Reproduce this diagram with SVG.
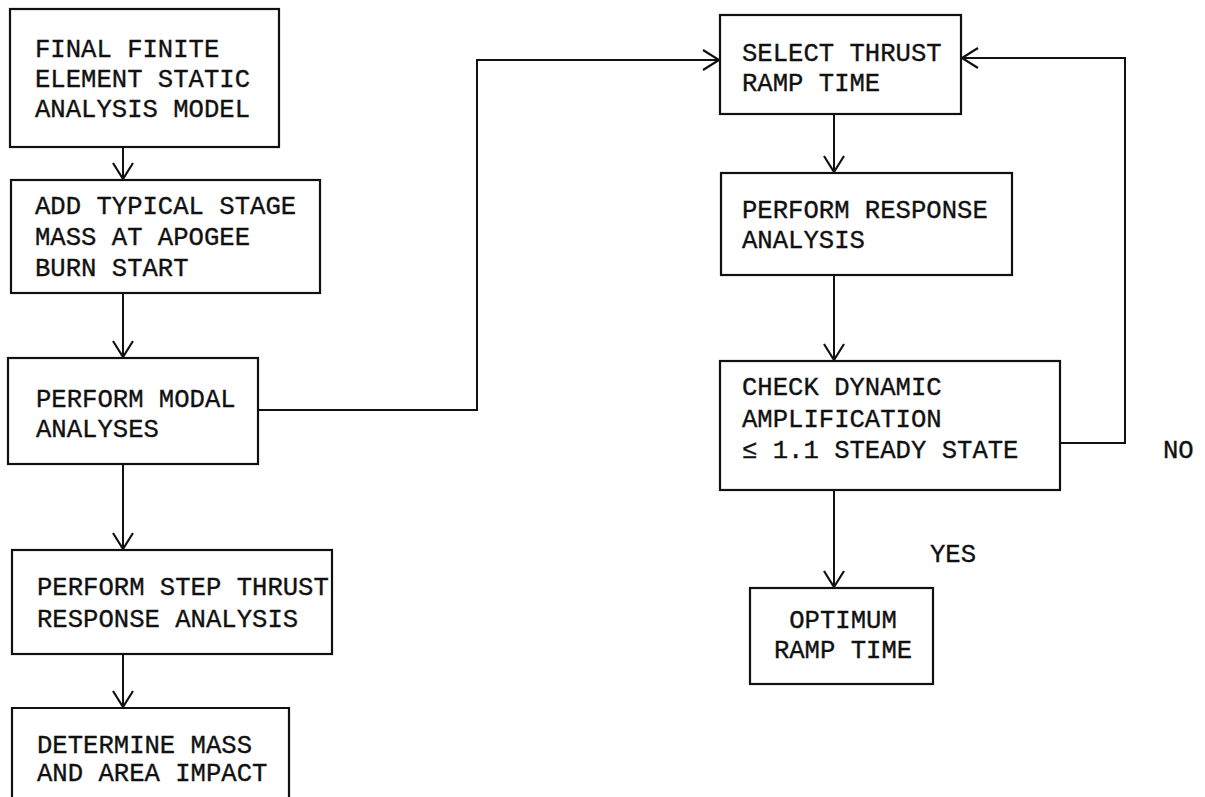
<svg xmlns="http://www.w3.org/2000/svg" width="1205" height="797" viewBox="0 0 1205 797">
  <style>
    .box { fill: none; stroke: #111; stroke-width: 2.2; }
    .link { fill: none; stroke: #111; stroke-width: 2; }
    text { font-family: "Liberation Mono", "DejaVu Sans Mono", monospace; font-size: 25.6px; fill: #111; stroke: #111; stroke-width: 0.35; }
  </style>
  <defs>
    <marker id="vee" markerUnits="userSpaceOnUse" markerWidth="30" markerHeight="30" viewBox="-20 -15 25 30" refX="0" refY="0" orient="auto">
      <path d="M-16,-10 L0,0 L-16,10" fill="none" stroke="#111" stroke-width="2.2"/>
    </marker>
  </defs>
  <rect width="1205" height="797" fill="#fff"/>

  <!-- connectors -->
  <g id="connectors">
    <path class="link" d="M123,147 V179" marker-end="url(#vee)"/>
    <path class="link" d="M123,293 V357" marker-end="url(#vee)"/>
    <path class="link" d="M123,464 V549" marker-end="url(#vee)"/>
    <path class="link" d="M123,654 V707" marker-end="url(#vee)"/>
    <path class="link" d="M258,410 H477 V60 H719" marker-end="url(#vee)"/>
    <path class="link" d="M834,114 V172" marker-end="url(#vee)"/>
    <path class="link" d="M834,275 V360" marker-end="url(#vee)"/>
    <path class="link" d="M834,490 V587" marker-end="url(#vee)"/>
    <path class="link" d="M1060,443 H1125 V58 H962" marker-end="url(#vee)"/>
  </g>

  <!-- left column -->
  <g id="n-final-model">
    <rect class="box" x="10" y="9" width="269" height="138"/>
    <text x="35" y="57">FINAL FINITE</text>
    <text x="35" y="87">ELEMENT STATIC</text>
    <text x="35" y="117">ANALYSIS MODEL</text>
  </g>
  <g id="n-add-mass">
    <rect class="box" x="11" y="180" width="309" height="113"/>
    <text x="35" y="214">ADD TYPICAL STAGE</text>
    <text x="35" y="245">MASS AT APOGEE</text>
    <text x="35" y="276">BURN START</text>
  </g>
  <g id="n-modal">
    <rect class="box" x="8" y="358" width="250" height="106"/>
    <text x="36" y="407">PERFORM MODAL</text>
    <text x="36" y="437">ANALYSES</text>
  </g>
  <g id="n-step-thrust">
    <rect class="box" x="12" y="550" width="320" height="104"/>
    <text x="37" y="595">PERFORM STEP THRUST</text>
    <text x="37" y="627">RESPONSE ANALYSIS</text>
  </g>
  <g id="n-mass-area">
    <path class="box" d="M12,797 V708 H289 V797"/>
    <text x="37" y="753">DETERMINE MASS</text>
    <text x="37" y="781">AND AREA IMPACT</text>
  </g>

  <!-- right column -->
  <g id="n-select-ramp">
    <rect class="box" x="720" y="15" width="241" height="99"/>
    <text x="742" y="61">SELECT THRUST</text>
    <text x="742" y="91">RAMP TIME</text>
  </g>
  <g id="n-response">
    <rect class="box" x="721" y="173" width="291" height="102"/>
    <text x="742" y="218">PERFORM RESPONSE</text>
    <text x="742" y="248">ANALYSIS</text>
  </g>
  <g id="n-check">
    <rect class="box" x="720" y="361" width="340" height="129"/>
    <text x="742" y="395">CHECK DYNAMIC</text>
    <text x="742" y="427">AMPLIFICATION</text>
    <text x="742" y="458">≤ 1.1 STEADY STATE</text>
  </g>
  <g id="n-optimum">
    <rect class="box" x="750" y="588" width="183" height="96"/>
    <text x="843" y="628" text-anchor="middle">OPTIMUM</text>
    <text x="843" y="658" text-anchor="middle">RAMP TIME</text>
  </g>

  <!-- branch labels -->
  <g id="labels">
    <text x="1163" y="458">NO</text>
    <text x="930" y="562">YES</text>
  </g>
</svg>
